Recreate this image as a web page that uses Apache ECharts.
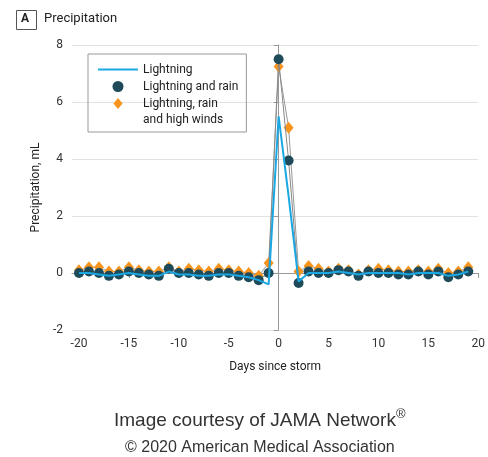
<!DOCTYPE html>
<html>
<head>
<meta charset="utf-8">
<script src="https://cdn.jsdelivr.net/npm/echarts@6/dist/echarts.min.js"></script>
<style>
  html, body { margin: 0; padding: 0; background: #fff; }
  #chart { width: 488px; height: 457px; }
</style>
</head>
<body>
<div id="chart"></div>
<script>
// precipitation around storm day
const chart = echarts.init(document.getElementById('chart'))

const days = [-20, -19, -18, -17, -16, -15, -14, -13, -12, -11, -10, -9, -8, -7, -6, -5, -4, -3, -2, -1,
  0, 1, 2, 3, 4, 5, 6, 7, 8, 9, 10, 11, 12, 13, 14, 15, 16, 17, 18, 19]

const lightning = [0.0, 0.0, -0.05, -0.1, -0.05, 0.0, -0.05, -0.1, -0.1, 0.05, -0.05, -0.05, -0.1, -0.1, -0.05, -0.05, -0.1, -0.15, -0.25, -0.4,
  5.5, 2.7, -0.3, 0.0, 0.0, 0.0, 0.05, 0.0, -0.05, 0.0, 0.0, 0.0, 0.0, -0.05, 0.0, 0.0, 0.0, -0.1, -0.05, 0.05]

const lightningRain = [0.0, 0.05, 0.0, -0.1, -0.05, 0.05, 0.0, -0.05, -0.1, 0.15, 0.0, 0.0, -0.05, -0.1, 0.0, 0.0, -0.1, -0.15, -0.25, 0.0,
  7.5, 3.95, -0.35, 0.05, 0.0, 0.0, 0.1, 0.05, -0.1, 0.05, 0.0, 0.0, -0.05, -0.05, 0.05, -0.05, 0.05, -0.15, -0.05, 0.05]

const lightningRainWind = [0.1, 0.2, 0.2, 0.05, 0.05, 0.2, 0.1, 0.05, 0.05, 0.2, 0.05, 0.15, 0.1, 0.05, 0.15, 0.1, 0.05, 0.0, -0.1, 0.35,
  7.25, 5.1, 0.05, 0.25, 0.15, 0.05, 0.15, 0.1, -0.05, 0.1, 0.15, 0.1, 0.05, 0.05, 0.1, 0.05, 0.15, 0.0, 0.05, 0.2]

const xTicks = [-20, -15, -10, -5, 0, 5, 10, 15, 20]

const pairs = vals => days.map((d, i) => [d, vals[i]])

const font = 'Roboto'
const txt = '#333'

const option = {
  animation: false,
  textStyle: { fontFamily: font },
  title: {
    text: 'Precipitation',
    left: 39,
    top: 7,
    textStyle: { fontFamily: font, fontSize: 13, fontWeight: 'normal', color: '#222' }
  },
  graphic: [
    { type: 'rect', left: 16, top: 10, shape: { width: 20, height: 19 }, style: { fill: '#fff', stroke: '#555', lineWidth: 1 } },
    { type: 'text', left: 21, top: 13, style: { text: 'A', font: 'bold 12px Roboto', fill: '#222' } },
    { type: 'text', left: 143, top: 114, style: { text: 'and high winds', font: '12px Roboto', fill: '#222' } },
    {
      type: 'text', left: 114, top: 408,
      style: {
        text: '{m|Image courtesy of JAMA Network}{s|®}',
        rich: {
          m: { fontFamily: 'Liberation Sans', fontSize: 19, fill: '#333', verticalAlign: 'bottom' },
          s: { fontFamily: 'Liberation Sans', fontSize: 13, fill: '#333', verticalAlign: 'top', padding: [0, 0, 9, 0] }
        }
      }
    },
    {
      type: 'text', left: 125, top: 440,
      style: { text: '© 2020 American Medical Association', font: '16px "Liberation Sans"', fill: '#333' }
    }
  ],
  legend: {
    orient: 'vertical',
    left: 88,
    top: 54,
    padding: [7, 8, 20, 10],
    borderColor: '#999',
    borderWidth: 1,
    itemWidth: 40,
    itemHeight: 11,
    itemGap: 0,
    textStyle: { fontFamily: font, fontSize: 12, color: '#222', lineHeight: 17 },
    data: [
      { name: 'Lightning', icon: 'path://M0,0L40,0L40,2L0,2Z', itemStyle: { color: '#1aa7e2' } },
      { name: 'Lightning and rain', icon: 'circle', itemStyle: { color: '#1f4a5a' } },
      { name: 'Lightning, rain and high winds', icon: 'path://M5,0L10,6L5,12L0,6Z', itemStyle: { color: '#f7941d' } }
    ],
    formatter: name => name === 'Lightning, rain and high winds' ? 'Lightning, rain' : name
  },
  grid: { left: 72, right: 6, top: 45, bottom: 127 },
  xAxis: {
    type: 'value',
    min: -20.7,
    max: 20,
    name: 'Days since storm',
    nameLocation: 'middle',
    nameGap: 31,
    nameTextStyle: { fontFamily: font, fontSize: 12, color: '#222' },
    axisLine: { lineStyle: { color: '#999' } },
    axisTick: { customValues: xTicks, length: 5, lineStyle: { color: '#999' } },
    axisLabel: { customValues: xTicks, color: txt, fontSize: 12, margin: 8 },
    splitLine: { show: false }
  },
  yAxis: {
    type: 'value',
    min: -2,
    max: 8,
    interval: 2,
    name: 'Precipitation, mL',
    nameLocation: 'middle',
    nameGap: 28,
    nameTextStyle: { fontFamily: font, fontSize: 12, color: '#222' },
    axisLine: { show: true, lineStyle: { color: '#999' } },
    axisTick: { show: true, length: 5, lineStyle: { color: '#999' } },
    axisLabel: { color: txt, fontSize: 12, margin: 9 },
    splitLine: { show: true, lineStyle: { color: '#e2e2e2' } }
  },
  series: [
    {
      name: 'Lightning, rain and high winds',
      type: 'line',
      data: pairs(lightningRainWind),
      symbol: 'diamond',
      symbolSize: [10, 12],
      itemStyle: { color: '#f7941d' },
      lineStyle: { color: '#999', width: 1 },
      z: 2
    },
    {
      name: 'Lightning and rain',
      type: 'line',
      data: pairs(lightningRain),
      symbol: 'circle',
      symbolSize: 10,
      itemStyle: { color: '#1f4a5a' },
      lineStyle: { color: '#888', width: 1 },
      z: 3
    },
    {
      name: 'Lightning',
      type: 'line',
      data: pairs(lightning),
      symbol: 'none',
      itemStyle: { color: '#1aa7e2' },
      lineStyle: { color: '#1aa7e2', width: 2 },
      z: 4
    }
  ]
}

chart.setOption(option)
</script>
</body>
</html>
